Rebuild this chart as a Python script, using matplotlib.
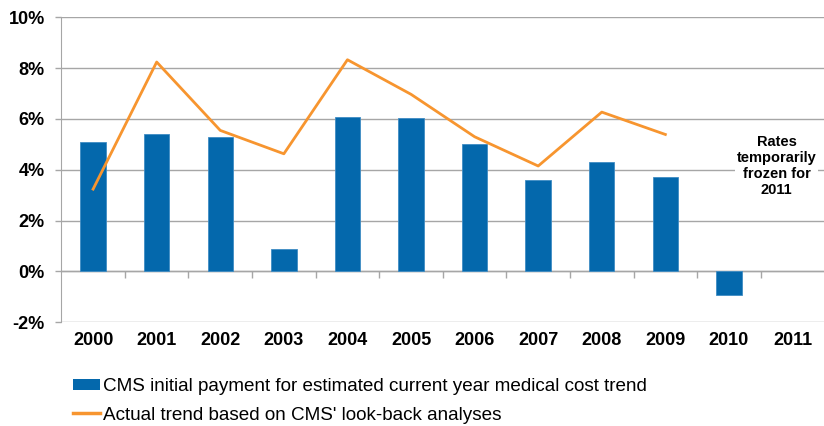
import matplotlib
matplotlib.use("Agg")
import matplotlib.pyplot as plt
from matplotlib.patches import Patch
from matplotlib.lines import Line2D

years = ["2000", "2001", "2002", "2003", "2004", "2005",
         "2006", "2007", "2008", "2009", "2010", "2011"]
# CMS initial payment (%), none for 2011
initial_payment = [5.10, 5.39, 5.29, 0.88, 6.07, 6.03, 5.02, 3.58, 4.30, 3.72, -0.94]
# actual look-back trend (%), 2000-2009
actual_trend = [3.24, 8.24, 5.55, 4.63, 8.33, 6.97, 5.30, 4.15, 6.27, 5.39]

BLUE = "#0468AC"
ORANGE = "#F7952F"
GRID = "#A6A6A6"

plt.rcParams["font.family"] = ["Liberation Sans", "DejaVu Sans"]

fig = plt.figure(figsize=(8.24, 4.26), dpi=100)
ax = fig.add_axes([0.0744, 0.2434, 0.926, 0.716])

ax.bar(range(len(initial_payment)), initial_payment, width=0.4, color=BLUE,
       edgecolor="#3F8CC4", linewidth=0.6, zorder=2)
ax.plot(range(len(actual_trend)), actual_trend, color=ORANGE, lw=2.0, zorder=3)

ax.set_xlim(-0.5, 11.5)
ax.set_ylim(-2, 10)
ax.set_yticks(range(-2, 11, 2))
ax.set_yticklabels([f"{v}%" for v in range(-2, 11, 2)], fontsize=13, fontweight="bold")
ax.set_xticks(range(len(years)))
ax.set_xticklabels(years, fontsize=13, fontweight="bold")
ax.tick_params(axis="x", length=0, pad=7)
ax.tick_params(axis="y", length=4, width=1, color=GRID, pad=8)

ax.yaxis.grid(True, color=GRID, lw=1, zorder=0)
ax.set_axisbelow(True)
for side in ("top", "right", "bottom"):
    ax.spines[side].set_visible(False)
ax.spines["left"].set_color(GRID)

# category axis line with boundary ticks at the 0% level
zero_axis = ax.secondary_xaxis(2 / 12)
zero_axis.set_xticks([i + 0.5 for i in range(len(years) - 1)])
zero_axis.set_xticklabels([])
zero_axis.tick_params(length=5, width=1, color=GRID, direction="out")
zero_axis.spines["bottom"].set_color(GRID)
zero_axis.spines["bottom"].set_linewidth(1)

ax.text(10.75, 4.15, "Rates\ntemporarily\nfrozen for\n2011", ha="center", va="center",
        fontsize=10.5, fontweight="bold", linespacing=1.2, zorder=4,
        bbox=dict(facecolor="white", edgecolor="none", pad=1))

handles = [Patch(facecolor=BLUE, edgecolor="none"),
           Line2D([0], [0], color=ORANGE, lw=2.5)]
labels = ["CMS initial payment for estimated current year medical cost trend",
          "Actual trend based on CMS' look-back analyses"]
fig.legend(handles, labels, loc="upper left", bbox_to_anchor=(0.0885, 0.113),
           frameon=False, fontsize=13.6, handlelength=1.43, handleheight=0.53,
           handletextpad=0.16, labelspacing=0.62, borderaxespad=0, borderpad=0)

fig.savefig("out.png", dpi=100)
